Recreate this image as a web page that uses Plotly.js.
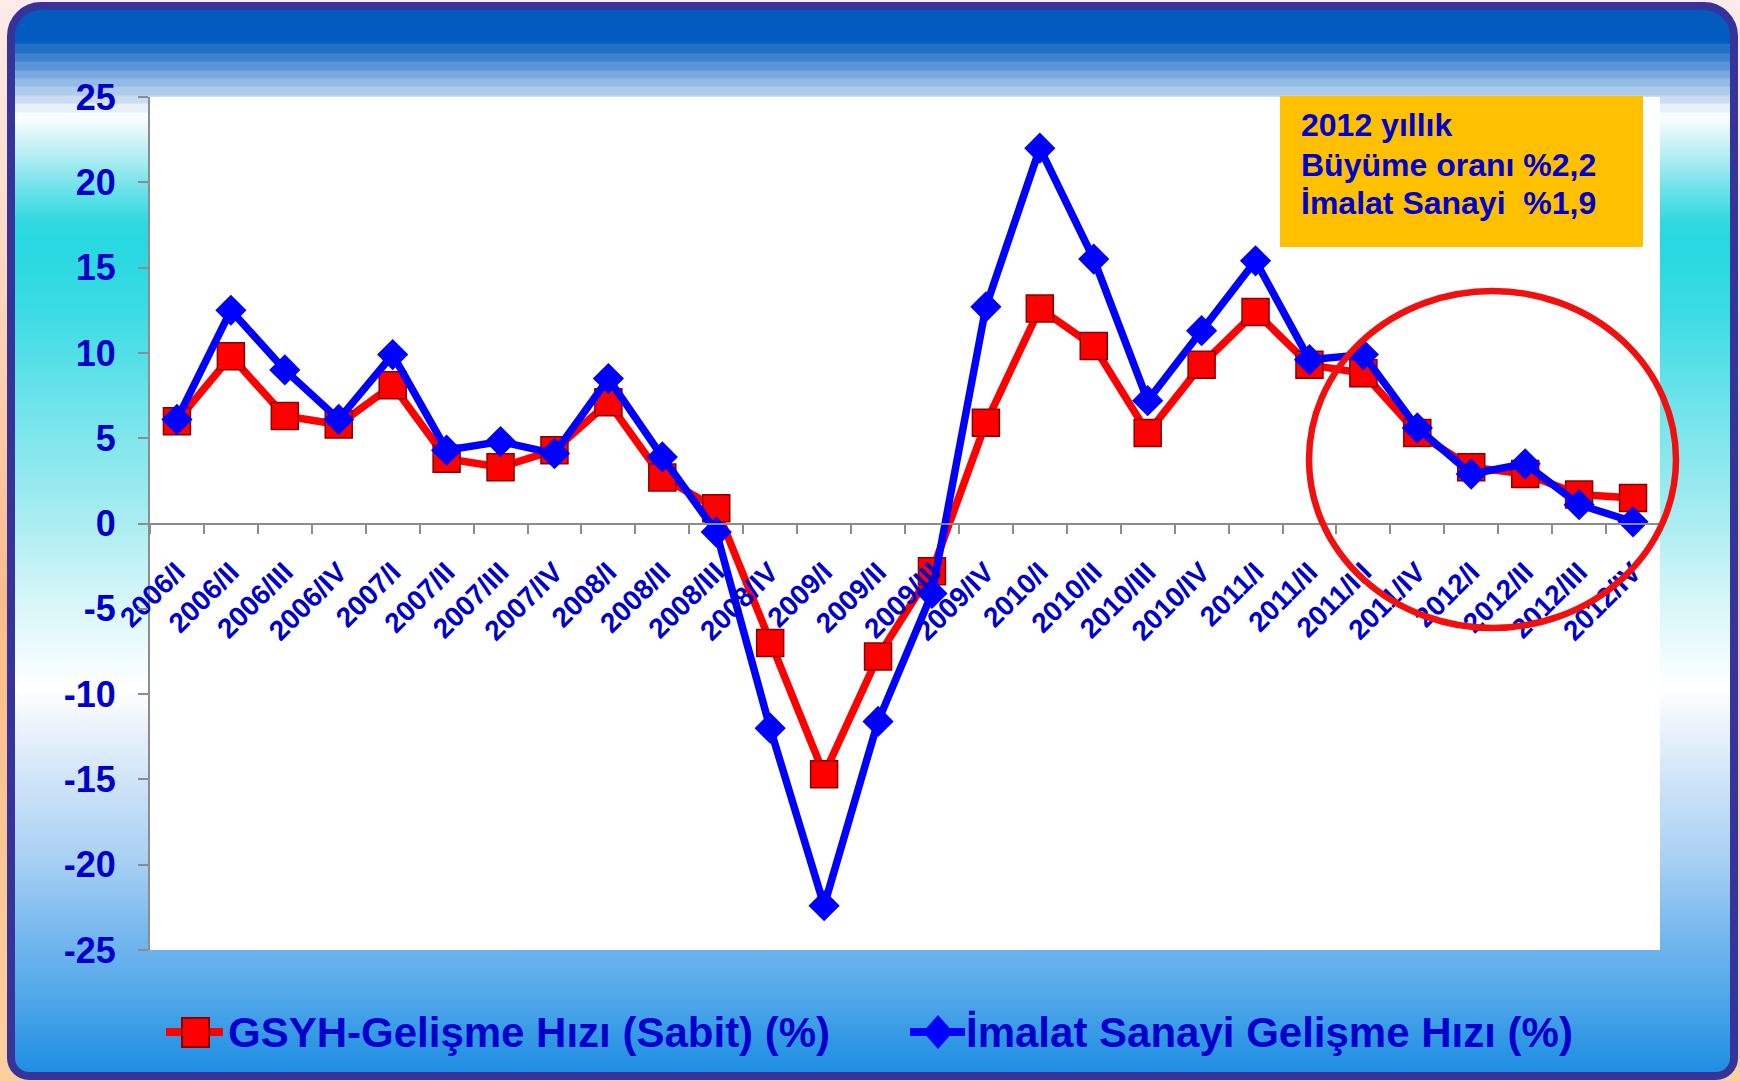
<!DOCTYPE html>
<html>
<head>
<meta charset="utf-8">
<script src="https://cdn.plot.ly/plotly-3.0.1.min.js"></script>
<style>
html,body{margin:0;padding:0;width:1740px;height:1081px;overflow:hidden;}
body{background:linear-gradient(to bottom,#fdeaea 0%,#fcdcc8 20%,#fbbc8c 55%,#fbd09c 100%);}
#frame{position:absolute;left:7px;top:2px;width:1731px;height:1078px;box-sizing:border-box;
  border:8px solid #36339a;border-radius:34px 34px 22px 22px;
  background:linear-gradient(to bottom,
   #025cbf 0px,#025cbf 33px,#2170c5 34px,#2170c5 43px,#3b82cf 44px,#3b82cf 51px,#5a94d6 52px,#5a94d6 60px,
   #77a8de 61px,#77a8de 68px,#92bbe5 69px,#92bbe5 76px,#aecbec 77px,#aecbec 85px,#cbdcf2 86px,#cbdcf2 93px,
   #e8f0fa 94px,#e8f0fa 102px,#f8feff 103px,#f8feff 110px,#e6f9fa 118px,#c8f2f5 135px,#a6ecf1 152px,
   #80e5ec 170px,#5ae0e7 188px,#36dae2 208px,#26d8e0 228px,#3adbe3 300px,#6ce3ea 390px,#9eebf0 490px,
   #d6f6f8 590px,#ffffff 680px,#eef4fc 712px,#d0e4f8 770px,#a8d0f3 850px,#72b6ee 930px,#56aaea 980px,
   #3298e5 1030px,#1a8ce2 1070px);}
#chart{position:absolute;left:0;top:0;width:1740px;height:1081px;}
</style>
</head>
<body>
<div id="frame"></div>
<div id="chart"></div>
<script>
const quarters = ['2006/I','2006/II','2006/III','2006/IV','2007/I','2007/II','2007/III','2007/IV',
  '2008/I','2008/II','2008/III','2008/IV','2009/I','2009/II','2009/III','2009/IV',
  '2010/I','2010/II','2010/III','2010/IV','2011/I','2011/II','2011/III','2011/IV',
  '2012/I','2012/II','2012/III','2012/IV'];
const gsyh = [6.0, 9.8, 6.3, 5.8, 8.1, 3.8, 3.3, 4.3, 7.1, 2.7, 0.9, -7.0, -14.7, -7.8, -2.8, 5.9,
  12.6, 10.4, 5.3, 9.3, 12.4, 9.3, 8.8, 5.3, 3.3, 2.9, 1.7, 1.5];
const imalat = [6.1, 12.5, 9.0, 6.1, 9.9, 4.3, 4.8, 4.1, 8.5, 3.9, -0.5, -12.0, -22.4, -11.6, -4.1, 12.7,
  22.0, 15.5, 7.2, 11.3, 15.4, 9.6, 9.9, 5.6, 2.9, 3.5, 1.1, 0.1];
const yTicks = [-25, -20, -15, -10, -5, 0, 5, 10, 15, 20, 25];
const seriesNames = ['GSYH-Gelişme Hızı (Sabit) (%)', 'İmalat Sanayi Gelişme Hızı (%)'];
const noteLines = ['2012 yıllık', 'Büyüme oranı %2,2', 'İmalat Sanayi\u00a0 %1,9'];

const FONT = 'Arial, "Liberation Sans", sans-serif';
const TEXTBLUE = '#0000cc';
const AXISGRAY = '#8c8c8c';
const RED = '#ff0000', DARKRED = '#8a0000', BLUE = '#0000ff';

const traces = [
  {type:'scatter', mode:'lines+markers', x:quarters, y:gsyh, name:seriesNames[0], showlegend:false,
   line:{color:RED, width:7.5},
   marker:{symbol:'square', size:27, color:RED, line:{color:DARKRED, width:1.5}}},
  {type:'scatter', mode:'lines+markers', x:quarters, y:imalat, name:seriesNames[1], showlegend:false,
   line:{color:BLUE, width:7.5},
   marker:{symbol:'diamond', size:24, color:BLUE, line:{color:BLUE, width:0}}}
];

// plot-area geometry helpers (margins in px) for placing decorations in paper units
const PL = 150, PR = 1660, PT = 97, PB = 950;
const px = v => (v - PL) / (PR - PL);
const py = v => (PB - v) / (PB - PT);

const legendY = 1032;
const shapes = [
  {type:'rect', xref:'paper', yref:'paper', x0:px(1280), x1:px(1643), y0:py(247), y1:py(96),
   fillcolor:'#ffc000', line:{width:0}, layer:'above'},
  {type:'circle', xref:'paper', yref:'paper', x0:px(1309), x1:px(1676), y0:py(628), y1:py(291),
   fillcolor:'rgba(0,0,0,0)', line:{color:'#f01010', width:6.5}, layer:'above'},
  // legend symbols
  {type:'line', xref:'paper', yref:'paper', x0:px(166), x1:px(223), y0:py(legendY), y1:py(legendY),
   line:{color:RED, width:8}, layer:'above'},
  {type:'rect', xref:'paper', yref:'paper', x0:px(182), x1:px(209), y0:py(1047), y1:py(1018),
   fillcolor:RED, line:{color:DARKRED, width:2}, layer:'above'},
  {type:'line', xref:'paper', yref:'paper', x0:px(910), x1:px(965), y0:py(legendY), y1:py(legendY),
   line:{color:BLUE, width:8}, layer:'above'},
  {type:'path', xref:'paper', yref:'paper',
   path:'M'+px(923)+','+py(legendY)+' L'+px(938)+','+py(1015)+' L'+px(953)+','+py(legendY)+' L'+px(938)+','+py(1049)+' Z',
   fillcolor:BLUE, line:{color:BLUE, width:0}, layer:'above'}
];

const noteY = [125, 165, 203];
const annotations = noteLines.map((t, i) => ({
  xref:'paper', yref:'paper', x:px(1299), y:py(noteY[i]), xanchor:'left', yanchor:'middle', align:'left',
  showarrow:false, text:t, font:{family:FONT, size:32, weight:'bold', color:TEXTBLUE}
}));
annotations.push(
  {xref:'paper', yref:'paper', x:px(226), y:py(legendY), xanchor:'left', yanchor:'middle', showarrow:false,
   text:seriesNames[0], font:{family:FONT, size:42, weight:'bold', color:TEXTBLUE}},
  {xref:'paper', yref:'paper', x:px(964), y:py(legendY), xanchor:'left', yanchor:'middle', showarrow:false,
   text:seriesNames[1], font:{family:FONT, size:42, weight:'bold', color:TEXTBLUE}}
);

const layout = {
  width:1740, height:1081,
  margin:{l:PL, r:1740-PR, t:PT, b:1081-PB, pad:0},
  paper_bgcolor:'rgba(0,0,0,0)', plot_bgcolor:'#ffffff',
  font:{family:FONT, color:TEXTBLUE},
  showlegend:false,
  xaxis:{type:'category', range:[-0.5, quarters.length - 0.5], anchor:'free', position:0.5,
    showline:true, linecolor:AXISGRAY, linewidth:2,
    ticks:'outside', tickson:'boundaries', ticklen:9, tickwidth:2, tickcolor:AXISGRAY,
    tickangle:-45, tickfont:{family:FONT, size:28, weight:'bold', color:TEXTBLUE},
    ticklabelstandoff:20, showgrid:false, zeroline:false, automargin:false, fixedrange:true},
  yaxis:{range:[-25,25], tickmode:'array', tickvals:yTicks, ticktext:yTicks.map(String),
    showline:true, linecolor:AXISGRAY, linewidth:2,
    ticks:'outside', ticklen:10, tickwidth:2, tickcolor:AXISGRAY,
    tickfont:{family:FONT, size:36, weight:'bold', color:TEXTBLUE},
    ticklabelstandoff:15, showgrid:false, zeroline:false, automargin:false, fixedrange:true},
  shapes:shapes,
  annotations:annotations
};

Plotly.newPlot('chart', traces, layout, {displayModeBar:false, staticPlot:true});
</script>
</body>
</html>
